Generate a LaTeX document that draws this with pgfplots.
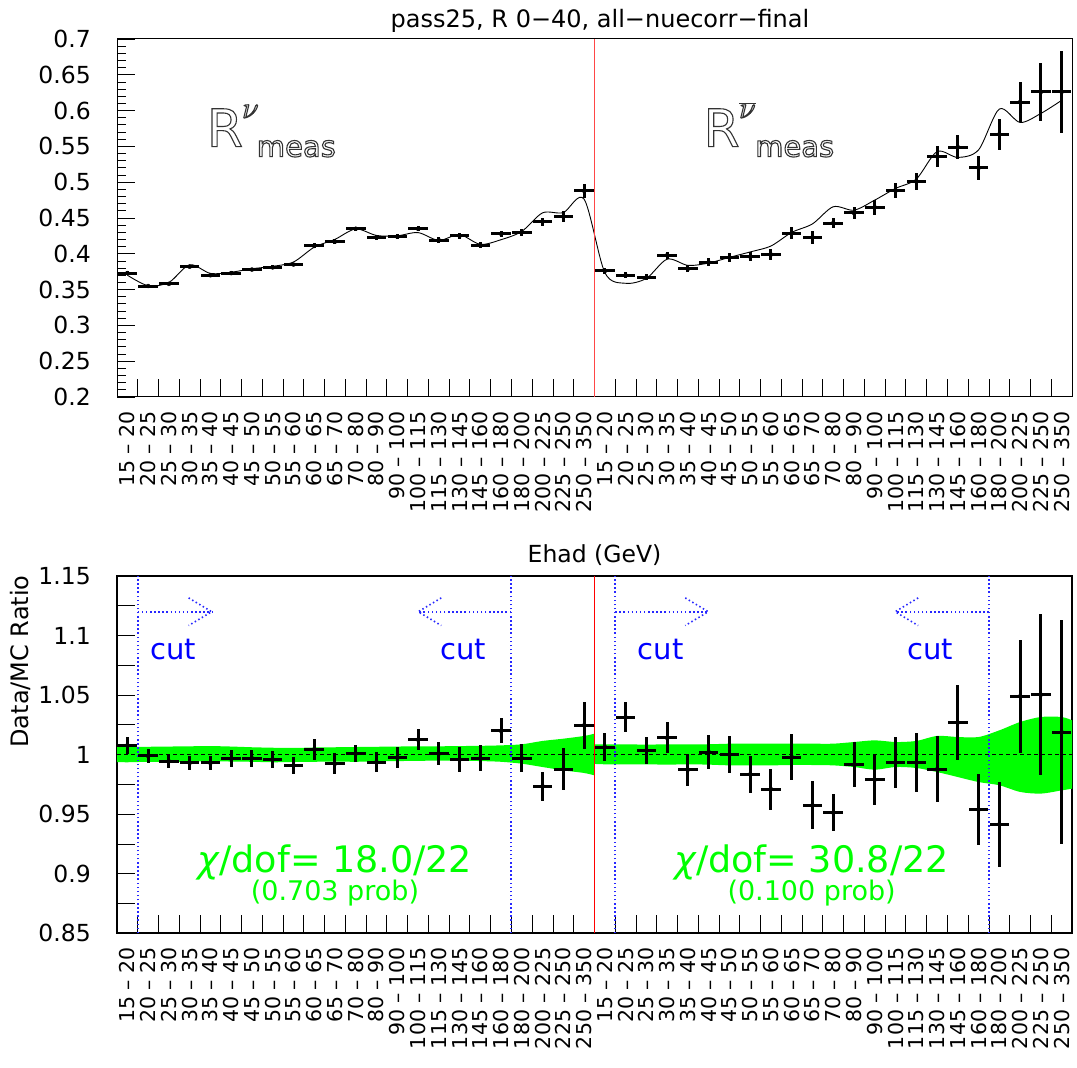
\RequirePackage{fix-cm}
\documentclass[border=0pt]{standalone}
\usepackage{fontspec}
\setmainfont{DejaVu Sans}
\usepackage{pgfplots}
\pgfplotsset{compat=1.18}
\usepgfplotslibrary{fillbetween}
\usepackage{pgfplotstable}

\newcommand{\fs}[1]{\fontsize{#1}{#1}\selectfont}

\pgfplotstableread{
x d e m r re
0.5 0.373 0.0026 0.3701 1.0078 0.0070
1.5 0.355 0.0021 0.3554 0.9989 0.0060
2.5 0.358 0.0022 0.3600 0.9944 0.0060
3.5 0.382 0.0023 0.3847 0.9930 0.0060
4.5 0.370 0.0022 0.3726 0.9930 0.0060
5.5 0.373 0.0026 0.3743 0.9966 0.0070
6.5 0.378 0.0027 0.3791 0.9970 0.0070
7.5 0.381 0.0027 0.3825 0.9960 0.0070
8.5 0.385 0.0027 0.3885 0.9910 0.0070
9.5 0.411 0.0036 0.4092 1.0045 0.0087
10.5 0.417 0.0037 0.4202 0.9924 0.0087
11.5 0.435 0.0030 0.4347 1.0008 0.0070
12.5 0.423 0.0036 0.4256 0.9938 0.0084
13.5 0.424 0.0036 0.4251 0.9975 0.0085
14.5 0.435 0.0037 0.4296 1.0126 0.0087
15.5 0.419 0.0039 0.4187 1.0008 0.0094
16.5 0.425 0.0045 0.4268 0.9958 0.0105
17.5 0.412 0.0045 0.4132 0.9970 0.0110
18.5 0.428 0.0044 0.4197 1.0199 0.0105
19.5 0.430 0.0050 0.4313 0.9970 0.0116
20.5 0.445 0.0056 0.4572 0.9734 0.0123
21.5 0.452 0.0080 0.4576 0.9877 0.0175
22.5 0.488 0.0095 0.4763 1.0246 0.0200
23.5 0.376 0.0043 0.3736 1.0064 0.0116
24.5 0.370 0.0045 0.3588 1.0313 0.0125
25.5 0.367 0.0042 0.3657 1.0036 0.0115
26.5 0.398 0.0051 0.3925 1.0140 0.0130
27.5 0.379 0.0051 0.3838 0.9874 0.0134
28.5 0.388 0.0056 0.3871 1.0022 0.0144
29.5 0.395 0.0062 0.3950 1.0000 0.0157
30.5 0.396 0.0063 0.4026 0.9835 0.0157
31.5 0.399 0.0071 0.4109 0.9710 0.0172
32.5 0.429 0.0084 0.4299 0.9980 0.0195
33.5 0.423 0.0088 0.4418 0.9575 0.0200
34.5 0.443 0.0074 0.4657 0.9513 0.0158
35.5 0.457 0.0087 0.4609 0.9916 0.0188
36.5 0.465 0.0102 0.4750 0.9790 0.0214
37.5 0.488 0.0105 0.4913 0.9933 0.0213
38.5 0.501 0.0123 0.5044 0.9933 0.0245
39.5 0.536 0.0150 0.5427 0.9877 0.0276
40.5 0.549 0.0170 0.5346 1.0269 0.0318
41.5 0.520 0.0164 0.5452 0.9538 0.0300
42.5 0.567 0.0214 0.6022 0.9415 0.0355
43.5 0.612 0.0278 0.5834 1.0490 0.0476
44.5 0.626 0.0403 0.5960 1.0504 0.0677
45.5 0.626 0.0577 0.6143 1.0190 0.0940
}\datatab

\pgfplotstableread{
x u l
0 1.0064 0.9938
0.5 1.0064 0.9936
1.5 1.0066 0.9940
2.5 1.0068 0.9938
3.5 1.0070 0.9940
4.5 1.0072 0.9945
5.5 1.0068 0.9942
6.5 1.0062 0.9940
7.5 1.0058 0.9936
8.5 1.0056 0.9938
9.5 1.0060 0.9940
10.5 1.0062 0.9942
11.5 1.0064 0.9940
12.5 1.0066 0.9944
13.5 1.0068 0.9946
14.5 1.0070 0.9948
15.5 1.0070 0.9950
16.5 1.0072 0.9950
17.5 1.0074 0.9946
18.5 1.0078 0.9940
19.5 1.0087 0.9924
20.5 1.0115 0.9896
21.5 1.0134 0.9868
22.5 1.0157 0.9846
23 1.0176 0.9826
}\nuband

\pgfplotstableread{
x u l
23 1.0087 0.9922
23.5 1.0087 0.9919
24.5 1.0087 0.9919
25.5 1.0084 0.9919
26.5 1.0087 0.9916
27.5 1.0087 0.9919
28.5 1.0087 0.9916
29.5 1.0092 0.9910
30.5 1.0092 0.9910
31.5 1.0092 0.9910
32.5 1.0092 0.9913
33.5 1.0092 0.9913
34.5 1.0092 0.9910
35.5 1.0106 0.9896
36.5 1.0120 0.9874
37.5 1.0106 0.9896
38.5 1.0115 0.9888
39.5 1.0157 0.9854
40.5 1.0148 0.9812
41.5 1.0148 0.9770
42.5 1.0204 0.9743
43.5 1.0274 0.9687
44.5 1.0316 0.9673
45.5 1.0316 0.9700
46 1.0288 0.9714
}\nubarband

\tikzset{cutline/.style={color={rgb,255:red,40;green,40;blue,255}, line width=1.6pt, dash pattern=on 1.5pt off 2.6pt}}

\pgfplotsset{
  binlabels/.style={
    xtick={0,...,46},
    x tick label as interval,
    xticklabels={15 – 20,20 – 25,25 – 30,30 – 35,35 – 40,40 – 45,45 – 50,50 – 55,55 – 60,60 – 65,65 – 70,70 – 80,80 – 90,90 – 100,100 – 115,115 – 130,130 – 145,145 – 160,160 – 180,180 – 200,200 – 225,225 – 250,250 – 350,
                 15 – 20,20 – 25,25 – 30,30 – 35,35 – 40,40 – 45,45 – 50,50 – 55,55 – 60,60 – 65,65 – 70,70 – 80,80 – 90,90 – 100,100 – 115,115 – 130,130 – 145,145 – 160,160 – 180,180 – 200,200 – 225,225 – 250,250 – 350},
    xticklabel style={rotate=90, anchor=east, inner sep=0pt, font=\fs{20.5}},
    xticklabel shift=14pt,
  },
  common/.style={
    scale only axis, width=955pt, anchor=south west,
    xmin=0, xmax=46,
    xtick pos=left, ytick pos=left, tick align=inside,
    major tick length=18pt, minor tick length=9pt,
    tick style={black, line width=0.9pt},
    yticklabel style={anchor=east, inner sep=0pt, font=\fs{23.5}},
    yticklabel shift=26pt,
    binlabels,
  },
  crosses/.style={black, only marks, mark=none,
    error bars/.cd, x dir=both, x fixed=0.47, y dir=both, y explicit,
    error mark=none, error bar style={line width=3pt, black, solid}},
}

% outlined (hollow) text via PDF text render mode 1 (stroke only)
\newcommand{\hollow}[3]{%
  \node[anchor=base west, inner sep=0pt, text=black!80] at (#1pt,#2pt)
    {\special{pdf:literal direct 1 Tr 1.1 w}#3\special{pdf:literal direct 0 Tr}};}

\begin{document}
\begin{tikzpicture}

% ---------------- top panel ----------------
\begin{axis}[common,
  at={(117pt,671pt)}, height=358pt,
  ymin=0.2, ymax=0.7,
  ytick={0.2,0.25,0.3,0.35,0.4,0.45,0.5,0.55,0.6,0.65,0.7},
  yticklabels={0.2,0.25,0.3,0.35,0.4,0.45,0.5,0.55,0.6,0.65,0.7},
  minor y tick num=4,
  axis line style={line width=1pt},
]
\addplot[black, line width=0.9pt, smooth, mark=none] table[x=x, y=m] {\datatab};
\addplot[crosses] table[x=x, y=d, y error=e] {\datatab};
\draw[color={rgb,255:red,255;green,70;blue,70}, line width=1.6pt] (axis cs:23,0.2) -- (axis cs:23,0.7);
\end{axis}

% ---------------- bottom panel ----------------
\begin{axis}[common,
  at={(117pt,134.7pt)}, height=357.3pt,
  ymin=0.85, ymax=1.15,
  ytick={0.85,0.875,0.9,0.925,0.95,0.975,1,1.025,1.05,1.075,1.1,1.125,1.15},
  yticklabels={0.85,,0.9,,0.95,,1,,1.05,,1.1,,1.15},
  axis line style={line width=1.6pt},
]
\addplot[name path=nuU, draw=none, smooth] table[x=x, y=u] {\nuband};
\addplot[name path=nuL, draw=none, smooth] table[x=x, y=l] {\nuband};
\addplot[fill=green, draw=none] fill between[of=nuU and nuL];
\addplot[name path=nbU, draw=none, smooth] table[x=x, y=u] {\nubarband};
\addplot[name path=nbL, draw=none, smooth] table[x=x, y=l] {\nubarband};
\addplot[fill=green, draw=none] fill between[of=nbU and nbL];

\draw[black, line width=0.9pt, dash pattern=on 4pt off 3pt] (axis cs:0,1) -- (axis cs:46,1);

% cut lines
\draw[cutline] (axis cs:1,0.85) -- (axis cs:1,1.15);
\draw[cutline] (axis cs:18.98,0.85) -- (axis cs:18.98,1.15);
\draw[cutline] (axis cs:24,0.85) -- (axis cs:24,1.15);
\draw[cutline] (axis cs:42,0.85) -- (axis cs:42,1.15);
% arrows
\draw[cutline] (axis cs:1,1.12) -- (axis cs:4.56,1.12);
\draw[cutline] (axis cs:3.45,1.1316) -- (axis cs:4.56,1.12) -- (axis cs:3.45,1.1084);
\draw[cutline] (axis cs:18.98,1.12) -- (axis cs:14.51,1.12);
\draw[cutline] (axis cs:15.62,1.1316) -- (axis cs:14.51,1.12) -- (axis cs:15.62,1.1084);
\draw[cutline] (axis cs:24,1.12) -- (axis cs:28.48,1.12);
\draw[cutline] (axis cs:27.37,1.1316) -- (axis cs:28.48,1.12) -- (axis cs:27.37,1.1084);
\draw[cutline] (axis cs:42,1.12) -- (axis cs:37.48,1.12);
\draw[cutline] (axis cs:38.59,1.1316) -- (axis cs:37.48,1.12) -- (axis cs:38.59,1.1084);

\node[anchor=base, text=blue, font=\fs{29}] at (axis cs:2.72,1.0795) {cut};
\node[anchor=base, text=blue, font=\fs{29}] at (axis cs:16.69,1.0795) {cut};
\node[anchor=base, text=blue, font=\fs{29}] at (axis cs:26.18,1.0795) {cut};
\node[anchor=base, text=blue, font=\fs{29}] at (axis cs:39.16,1.0795) {cut};

\node[anchor=base, text=green, font=\fs{36.5}] at (axis cs:10.5,0.9008) {{\itshape χ}/dof= 18.0/22};
\node[anchor=base, text=green, font=\fs{27}] at (axis cs:10.5,0.8775) {(0.703 prob)};
\node[anchor=base, text=green, font=\fs{36.5}] at (axis cs:33.46,0.9008) {{\itshape χ}/dof= 30.8/22};
\node[anchor=base, text=green, font=\fs{27}] at (axis cs:33.46,0.8775) {(0.100 prob)};

\addplot[crosses] table[x=x, y=r, y error=re] {\datatab};
\draw[red, line width=1.8pt] (axis cs:23,0.85) -- (axis cs:23,1.15);
\end{axis}

% ---------------- texts ----------------
\node[anchor=base, font=\fs{24}] at (600pt,1040pt) {pass25, R 0−40, all−nuecorr−final};
\node[anchor=base, font=\fs{23.5}] at (594.5pt,505.3pt) {Ehad (GeV)};
\node[anchor=base, rotate=90, font=\fs{24}] at (28.3pt,406.5pt) {Data/MC Ratio};

\hollow{206.7}{921.3}{\fs{52}R}
\hollow{242}{950}{\fs{30}$\nu$}
\hollow{256.7}{911.3}{\fs{29}meas}
\hollow{703.3}{921.3}{\fs{52}R}
\hollow{739}{950}{\fs{30}$\overline{\nu}$}
\hollow{755}{911.3}{\fs{29}meas}

\pgfresetboundingbox
\path[use as bounding box] (0pt,0pt) rectangle (1077pt,1068pt);
\end{tikzpicture}
\end{document}
